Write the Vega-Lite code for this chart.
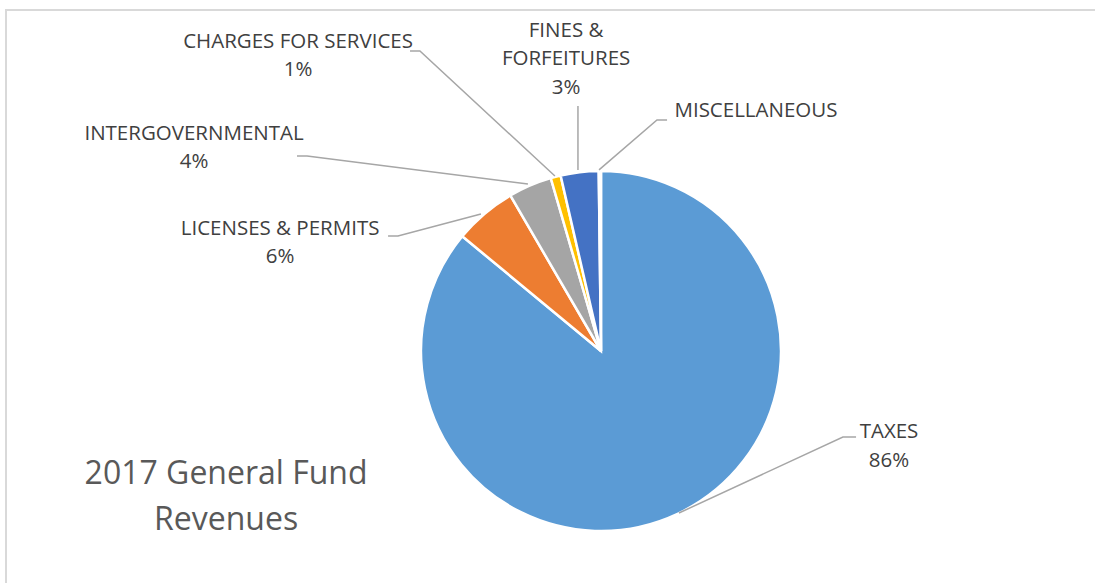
{
  "$schema": "https://vega.github.io/schema/vega-lite/v6.json",
  "width": 1100,
  "height": 590,
  "autosize": {"type": "none"},
  "padding": {"left": 6, "top": 10, "right": 0, "bottom": 0},
  "background": "white",
  "config": {"view": {"stroke": "#D9D9D9", "strokeWidth": 2}},
  "datasets": {
    "slices": [
      {"category": "TAXES", "value": 86.0, "ord": 1},
      {"category": "LICENSES & PERMITS", "value": 5.6, "ord": 2},
      {"category": "INTERGOVERNMENTAL", "value": 3.9, "ord": 3},
      {"category": "CHARGES FOR SERVICES", "value": 0.9, "ord": 4},
      {"category": "FINES & FORFEITURES", "value": 3.4, "ord": 5},
      {"category": "MISCELLANEOUS", "value": 0.2, "ord": 6}
    ],
    "labels": [
      {"category": "TAXES", "label": "TAXES\n86%", "lx": 160, "ly": -45},
      {"category": "LICENSES & PERMITS", "label": "LICENSES & PERMITS\n6%", "lx": -178.3, "ly": 67.8},
      {"category": "INTERGOVERNMENTAL", "label": "INTERGOVERNMENTAL\n4%", "lx": -226.1, "ly": 120.6},
      {"category": "CHARGES FOR SERVICES", "label": "CHARGES FOR SERVICES\n1%", "lx": -168.3, "ly": 171.7},
      {"category": "FINES & FORFEITURES", "label": "FINES &\nFORFEITURES\n3%", "lx": -19.4, "ly": 177.8},
      {"category": "MISCELLANEOUS", "label": "MISCELLANEOUS", "lx": 86.1, "ly": 133.3}
    ],
    "leaders": [
      {"category": "TAXES", "seq": 1, "lx": 43.3, "ly": -90},
      {"category": "TAXES", "seq": 2, "lx": 134.4, "ly": -47.8},
      {"category": "TAXES", "seq": 3, "lx": 141.7, "ly": -47.8},
      {"category": "LICENSES & PERMITS", "seq": 1, "lx": -66.7, "ly": 76.1},
      {"category": "LICENSES & PERMITS", "seq": 2, "lx": -112.8, "ly": 63.9},
      {"category": "LICENSES & PERMITS", "seq": 3, "lx": -118.3, "ly": 63.9},
      {"category": "INTERGOVERNMENTAL", "seq": 1, "lx": -40.6, "ly": 92.8},
      {"category": "INTERGOVERNMENTAL", "seq": 2, "lx": -163.3, "ly": 108.3},
      {"category": "INTERGOVERNMENTAL", "seq": 3, "lx": -168.9, "ly": 108.3},
      {"category": "CHARGES FOR SERVICES", "seq": 1, "lx": -25.6, "ly": 97.2},
      {"category": "CHARGES FOR SERVICES", "seq": 2, "lx": -100.6, "ly": 166.7},
      {"category": "CHARGES FOR SERVICES", "seq": 3, "lx": -106.1, "ly": 166.7},
      {"category": "FINES & FORFEITURES", "seq": 1, "lx": -12.8, "ly": 100.6},
      {"category": "FINES & FORFEITURES", "seq": 2, "lx": -12.8, "ly": 136.1},
      {"category": "MISCELLANEOUS", "seq": 1, "lx": -1.1, "ly": 100.6},
      {"category": "MISCELLANEOUS", "seq": 2, "lx": 31.1, "ly": 128.3},
      {"category": "MISCELLANEOUS", "seq": 3, "lx": 36.7, "ly": 128.3}
    ]
  },
  "layer": [
    {
      "data": {"name": "slices"},
      "mark": {"type": "arc", "outerRadius": 180, "stroke": "white", "strokeWidth": 2.5},
      "encoding": {
        "theta": {"field": "value", "type": "quantitative", "stack": true},
        "order": {"field": "ord", "type": "quantitative"},
        "color": {
          "field": "category",
          "type": "nominal",
          "scale": {
            "domain": ["TAXES", "LICENSES & PERMITS", "INTERGOVERNMENTAL", "CHARGES FOR SERVICES", "FINES & FORFEITURES", "MISCELLANEOUS"],
            "range": ["#5B9BD5", "#ED7D31", "#A5A5A5", "#FFC000", "#4472C4", "#70AD47"]
          },
          "legend": null
        },
        "x": {"datum": 0, "type": "quantitative", "scale": {"domain": [-330.56, 280.56], "nice": false, "zero": false}, "axis": null},
        "y": {"datum": 0, "type": "quantitative", "scale": {"domain": [-138.33, 189.44], "nice": false, "zero": false}, "axis": null}
      }
    },
    {
      "data": {"name": "leaders"},
      "mark": {"type": "line", "color": "#A6A6A6", "strokeWidth": 1.5},
      "encoding": {
        "x": {"field": "lx", "type": "quantitative", "scale": {"domain": [-330.56, 280.56], "nice": false, "zero": false}, "axis": null},
        "y": {"field": "ly", "type": "quantitative", "scale": {"domain": [-138.33, 189.44], "nice": false, "zero": false}, "axis": null},
        "detail": {"field": "category", "type": "nominal"},
        "order": {"field": "seq", "type": "quantitative"}
      }
    },
    {
      "data": {"name": "labels"},
      "mark": {"type": "text", "font": "Open Sans", "fontSize": 20.5, "color": "#404040", "lineBreak": "\n", "lineHeight": 28.5, "align": "center", "baseline": "middle"},
      "encoding": {
        "x": {"field": "lx", "type": "quantitative", "scale": {"domain": [-330.56, 280.56], "nice": false, "zero": false}, "axis": null},
        "y": {"field": "ly", "type": "quantitative", "scale": {"domain": [-138.33, 189.44], "nice": false, "zero": false}, "axis": null},
        "text": {"field": "label", "type": "nominal"}
      }
    },
    {
      "data": {"values": [{"title": "2017 General Fund\nRevenues"}]},
      "mark": {"type": "text", "font": "Open Sans", "fontSize": 32, "color": "#595959", "lineBreak": "\n", "lineHeight": 46, "align": "center", "baseline": "middle"},
      "encoding": {
        "x": {"datum": -208.3, "type": "quantitative", "scale": {"domain": [-330.56, 280.56], "nice": false, "zero": false}, "axis": null},
        "y": {"datum": -68.3, "type": "quantitative", "scale": {"domain": [-138.33, 189.44], "nice": false, "zero": false}, "axis": null},
        "text": {"field": "title", "type": "nominal"}
      }
    }
  ]
}
